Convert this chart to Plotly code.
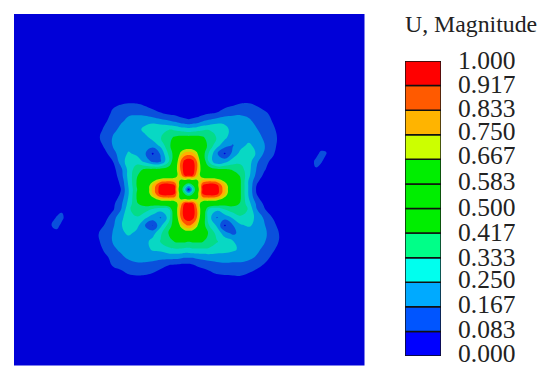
import numpy as np
import plotly.graph_objects as go

W, H = 550, 377
PAGE = 8  # the page's own margin around the figure

# Sample offsets from the field centre (px-like model units), one side of the core
core_offsets = [0, 4, 8, 14, 20, 28, 36, 44, 52, 60, 68, 76, 84, 92]

# U magnitude in percent, rows run outward from the horizontal axis, columns outward from the vertical axis
upper_left = [
    [4, 28, 52, 94, 100, 97, 78, 52, 41, 25, 8, 2, 0, 0],
    [28, 40, 58, 92, 98, 95, 76, 52, 42, 26, 9, 2, 0, 0],
    [52, 58, 62, 80, 84, 82, 66, 50, 42, 27, 10, 3, 0, 0],
    [94, 92, 78, 58, 53, 50, 48, 46, 41, 28, 13, 3, 0, 0],
    [100, 97, 85, 56, 47, 45, 44, 43, 38, 28, 14, 5, 0, 0],
    [98, 95, 84, 50, 33, 16, 15, 23, 30, 30, 20, 8, 1, 0],
    [80, 78, 70, 46, 35, 18, 7, 18, 23, 26, 21, 13, 6, 0],
    [56, 55, 52, 46, 40, 27, 20, 18, 20, 22, 21, 17, 10, 3],
    [45, 45, 45, 43, 39, 33, 28, 22, 19, 19, 19, 17, 12, 6],
    [28, 29, 30, 32, 33, 33, 31, 28, 21, 19, 18, 15, 10, 4],
    [11, 12, 13, 16, 18, 20, 23, 21, 19, 18, 16, 12, 7, 0],
    [2, 3, 4, 6, 7, 9, 11, 15, 16, 16, 13, 10, 4, 0],
    [0, 0, 0, 0, 1, 3, 6, 8, 10, 10, 9, 7, 1, 0],
    [0, 0, 0, 0, 0, 0, 0, 0, 3, 4, 2, 0, 0, 0],
]
upper_right = [
    [4, 28, 52, 94, 100, 97, 78, 50, 42, 24, 7, 1, 0, 0],
    [28, 40, 58, 92, 98, 95, 76, 50, 42, 24, 8, 2, 0, 0],
    [52, 58, 62, 80, 84, 82, 66, 50, 42, 24, 10, 3, 0, 0],
    [94, 92, 78, 58, 53, 50, 47, 45, 41, 27, 14, 6, 0, 0],
    [100, 97, 85, 56, 47, 44, 43, 41, 37, 28, 16, 9, 3, 0],
    [98, 95, 84, 50, 33, 17, 22, 29, 31, 29, 18, 11, 6, 0],
    [80, 78, 70, 46, 33, 18, 7, 19, 28, 30, 24, 15, 10, 2],
    [56, 55, 52, 46, 40, 28, 20, 16, 22, 27, 22, 17, 11, 5],
    [45, 45, 45, 43, 38, 33, 27, 20, 20, 21, 20, 15, 11, 6],
    [28, 29, 30, 32, 33, 33, 28, 22, 20, 19, 17, 14, 10, 5],
    [11, 12, 13, 17, 19, 22, 23, 21, 19, 18, 15, 12, 8, 2],
    [2, 3, 4, 6, 8, 9, 13, 15, 16, 15, 14, 10, 6, 0],
    [0, 0, 0, 0, 1, 3, 6, 8, 10, 10, 8, 5, 1, 0],
    [0, 0, 0, 0, 0, 0, 0, 0, 3, 4, 2, 0, 0, 0],
]
lower_left = [
    [28, 40, 58, 93, 98, 96, 76, 52, 42, 25, 9, 2, 0, 0],
    [52, 58, 62, 82, 84, 82, 66, 50, 42, 26, 11, 3, 0, 0],
    [94, 92, 78, 58, 53, 50, 47, 45, 41, 28, 14, 6, 0, 0],
    [100, 97, 85, 54, 30, 28, 32, 37, 41, 31, 16, 7, 1, 0],
    [98, 95, 84, 50, 28, 16, 21, 27, 32, 31, 22, 13, 5, 0],
    [84, 80, 70, 47, 37, 23, 8, 17, 28, 30, 24, 15, 9, 2],
    [58, 57, 53, 47, 42, 32, 22, 19, 22, 27, 22, 17, 12, 7],
    [42, 43, 43, 42, 39, 34, 28, 22, 20, 19, 19, 17, 12, 6],
    [31, 31, 32, 32, 31, 27, 26, 22, 20, 19, 18, 15, 10, 3],
    [17, 17, 18, 19, 19, 19, 19, 19, 19, 18, 15, 11, 6, 0],
    [6, 6, 6, 7, 8, 11, 14, 15, 15, 13, 11, 9, 2, 0],
    [0, 0, 0, 0, 2, 5, 8, 10, 10, 9, 6, 3, 0, 0],
    [0, 0, 0, 0, 0, 0, 0, 1, 3, 2, 0, 0, 0, 0],
]
lower_right = [
    [28, 40, 58, 93, 98, 96, 76, 50, 42, 24, 8, 2, 0, 0],
    [52, 58, 62, 82, 84, 82, 66, 50, 42, 25, 10, 3, 0, 0],
    [94, 92, 78, 58, 53, 50, 46, 45, 41, 28, 15, 6, 0, 0],
    [100, 97, 85, 54, 32, 27, 33, 38, 41, 32, 17, 9, 2, 0],
    [98, 95, 84, 50, 29, 16, 20, 26, 31, 31, 22, 15, 8, 1],
    [84, 80, 70, 47, 34, 24, 7, 16, 24, 26, 23, 17, 11, 5],
    [58, 57, 53, 47, 41, 31, 21, 15, 19, 20, 20, 18, 13, 7],
    [42, 43, 43, 42, 39, 34, 30, 26, 21, 19, 19, 17, 12, 7],
    [32, 32, 32, 32, 32, 30, 29, 27, 23, 19, 18, 15, 10, 4],
    [17, 17, 18, 19, 20, 20, 20, 19, 19, 18, 16, 12, 6, 0],
    [6, 7, 9, 11, 12, 14, 15, 15, 15, 14, 11, 7, 1, 0],
    [0, 0, 1, 3, 6, 9, 10, 10, 10, 8, 5, 1, 0, 0],
    [0, 0, 0, 0, 0, 0, 1, 3, 4, 3, 1, 0, 0, 0],
]

# Two small isolated patches outside the main lobe
spot_columns = [122, 127, 132, 137, 142]
spot_right_rows = [-44, -36, -28, -20]
spot_right = [
    [0, 0, 0, 3, 0],
    [0, 2, 12, 10, 0],
    [1, 12, 11, 2, 0],
    [0, 7, 1, 0, 0],
]
spot_left_rows = [20, 28, 36, 44]
spot_left = [          # columns at -142, -137, -132, -127, -122
    [0, 0, 0, 5, 1],
    [0, 1, 10, 13, 1],
    [0, 9, 14, 4, 0],
    [0, 3, 2, 0, 0],
]

legend_title = "U, Magnitude"
level_values = [0.000, 0.083, 0.167, 0.250, 0.333, 0.417, 0.500, 0.583, 0.667, 0.750, 0.833, 0.917, 1.000]
tick_labels = ["0.000", "0.083", "0.167", "0.250", "0.333", "0.417", "0.500", "0.583", "0.667", "0.750", "0.833", "0.917", "1.000"]
tick_label_y_px = [353, 329, 304, 279, 257, 232, 207, 181, 155, 131, 108, 84, 60]

field_colors = ["#0000d8", "#0a50dc", "#0098e0", "#08d8c4", "#04dc88", "#00dc00", "#00dc00", "#00dc00",
                "#c8e000", "#ffb000", "#ff5000", "#ff0000"]
bar_colors = ["#0000ff", "#0055ff", "#00aaff", "#00ffee", "#00ff88", "#00ee00", "#00ee00", "#00ee00",
              "#ccff00", "#ffb400", "#ff5a00", "#ff0000"]

# Assemble the full grid from the four quadrants
off = core_offsets
core_axis = [-v for v in off[::-1]] + off[1:]
upper = [list(l[::-1]) + r[1:] for l, r in zip(upper_left[::-1], upper_right[::-1])]
lower = [list(l[::-1]) + r[1:] for l, r in zip(lower_left, lower_right)]
core = np.array(upper + lower, dtype=float)

x_axis = [-177, -142, -137, -132, -127, -122, -100] + core_axis + [100, 122, 127, 132, 137, 142, 177]
y_axis = [-177, -100] + core_axis + [100, 177]
z = np.zeros((len(y_axis), len(x_axis)))
ix = {v: i for i, v in enumerate(x_axis)}
iy = {v: i for i, v in enumerate(y_axis)}
for r, dy in enumerate(core_axis):
    for c, dx in enumerate(core_axis):
        z[iy[dy], ix[dx]] = core[r, c]
for r, dy in enumerate(spot_right_rows):
    for c, dx in enumerate(spot_columns):
        z[iy[dy], ix[dx]] = spot_right[r][c]
for r, dy in enumerate(spot_left_rows):
    for c, dx in enumerate(spot_columns):
        z[iy[dy], ix[-spot_columns[-1 - c]]] = spot_left[r][c]

n = len(field_colors)
scale = []
for i, col in enumerate(field_colors):
    scale += [[i / n, col], [(i + 1) / n, col]]


def px(v):
    return (v - PAGE) / W


def py(v):
    return 1 - (v - PAGE) / H


fig = go.Figure()
fig.add_trace(go.Contour(
    x=x_axis, y=y_axis, z=z, zmin=0, zmax=100, colorscale=scale, showscale=False,
    autocontour=False,
    contours=dict(start=100 / 12, end=1100 / 12, size=100 / 12, coloring="fill", showlines=False),
    line=dict(width=0, smoothing=1.3), hoverinfo="skip",
))
fig.add_trace(go.Bar(
    x=[0] * n, y=[level_values[i + 1] - level_values[i] for i in range(n)], base=level_values[:-1],
    width=1, marker=dict(color=bar_colors, line=dict(color="#111111", width=1.4)),
    xaxis="x2", yaxis="y2", showlegend=False, hoverinfo="skip",
))

font = "Liberation Serif"
ann = [dict(text=legend_title, x=px(471), y=py(24), xref="paper", yref="paper", showarrow=False,
            xanchor="center", yanchor="middle", font=dict(family=font, size=23.8, color="#222222"))]
for lab, y_px in zip(tick_labels, tick_label_y_px):
    ann.append(dict(text=lab, x=px(456), y=py(y_px), xref="paper", yref="paper", showarrow=False,
                    xanchor="left", yanchor="middle", height=20, valign="middle",
                    font=dict(family=font, size=25.5, color="#222222")))

fig.update_layout(
    width=W, height=H, margin=dict(l=0, r=0, t=0, b=0, pad=0),
    paper_bgcolor="white", plot_bgcolor="white", annotations=ann,
    xaxis=dict(domain=[px(14), px(364.5)], range=[-174.7, 175.8], visible=False),
    yaxis=dict(domain=[py(365.5), py(14)], range=[176, -175.5], visible=False),
    xaxis2=dict(domain=[px(405), px(441)], range=[-0.5, 0.5], visible=False, anchor="y2"),
    yaxis2=dict(domain=[py(356), py(61)], range=[0, 1], visible=False, anchor="x2"),
)
fig.write_html("out.html")
